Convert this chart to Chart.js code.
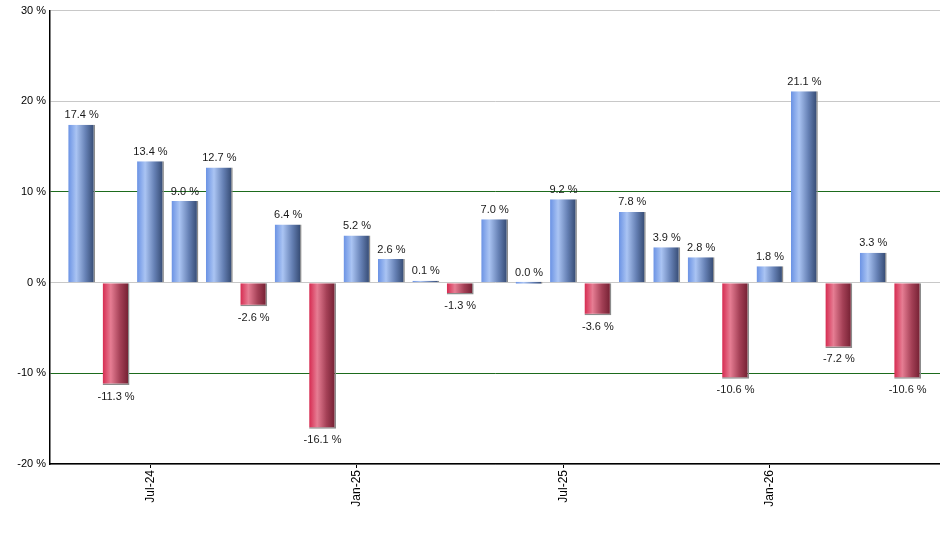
<!DOCTYPE html>
<html>
<head>
<meta charset="utf-8">
<script src="https://cdn.jsdelivr.net/npm/chart.js@4.4.1/dist/chart.umd.min.js"></script>
<style>
  html, body { margin: 0; padding: 0; background: #fff; }
  #wrap { width: 940px; height: 550px; position: relative; }
</style>
</head>
<body>
<div id="wrap"><canvas id="myChart"></canvas></div>
<script>
// monthly returns, May-24 .. May-26
const months = [
  'May-24', 'Jun-24', 'Jul-24', 'Aug-24', 'Sep-24', 'Oct-24', 'Nov-24', 'Dec-24',
  'Jan-25', 'Feb-25', 'Mar-25', 'Apr-25', 'May-25', 'Jun-25', 'Jul-25', 'Aug-25',
  'Sep-25', 'Oct-25', 'Nov-25', 'Dec-25', 'Jan-26', 'Feb-26', 'Mar-26', 'Apr-26', 'May-26'
]
const returns = [
  17.4, -11.3, 13.4, 9.0, 12.7, -2.6, 6.4, -16.1,
  5.2, 2.6, 0.1, -1.3, 7.0, 0.0, 9.2, -3.6,
  7.8, 3.9, 2.8, -10.6, 1.8, 21.1, -7.2, 3.3, -10.6
]
const tickMonths = ['Jul-24', 'Jan-25', 'Jul-25', 'Jan-26']
const yTicks = [-20, -10, 0, 10, 20, 30]

const BAR_PCT = 0.78
const FONT = "'Liberation Sans', Arial, sans-serif"

function barGradient(context) {
  const chart = context.chart
  const v = returns[context.dataIndex]
  if (!chart.chartArea || context.type !== 'data') return v >= 0 ? '#7f9fdc' : '#c8405c'
  const xs = chart.scales.x
  const cx = xs.getPixelForValue(context.dataIndex)
  const half = (xs.getPixelForValue(1) - xs.getPixelForValue(0)) * BAR_PCT / 2
  const g = chart.ctx.createLinearGradient(cx - half, 0, cx + half, 0)
  if (v >= 0) {
    g.addColorStop(0, '#6a92e4')
    g.addColorStop(0.3, '#aac4f3')
    g.addColorStop(0.65, '#6580b4')
    g.addColorStop(1, '#2f446b')
  } else {
    g.addColorStop(0, '#d62a50')
    g.addColorStop(0.3, '#e67d93')
    g.addColorStop(0.65, '#a44056')
    g.addColorStop(1, '#6e1c2e')
  }
  return g
}

// value labels above / below each bar
const valueLabels = {
  id: 'valueLabels',
  afterDatasetsDraw(chart) {
    const c = chart.ctx
    const meta = chart.getDatasetMeta(0)
    const zero = chart.scales.y.getPixelForValue(0)
    c.save()
    c.font = '11px ' + FONT
    c.fillStyle = '#1a1a1a'
    c.textAlign = 'center'
    meta.data.forEach((bar, i) => {
      const v = returns[i]
      const txt = v.toFixed(1) + ' %'
      if (v >= 0) {
        c.textBaseline = 'bottom'
        c.fillText(txt, bar.x, Math.min(bar.y, zero) - 4)
      } else {
        c.textBaseline = 'top'
        c.fillText(txt, bar.x, bar.y + 6)
      }
    })
    c.restore()
  }
}

const ctx = document.getElementById('myChart')
const myChart = new Chart(ctx, {
  type: 'bar',
  data: {
    datasets: [{
      data: returns.map((v, i) => ({ x: i, y: v })),
      backgroundColor: barGradient,
      borderColor: '#8c8c8c',
      borderWidth: c => returns[c.dataIndex] >= 0 ? { right: 1.5 } : { right: 1.5, bottom: 1.5 },
      borderSkipped: 'start',
      minBarLength: 2,
      barPercentage: BAR_PCT,
      categoryPercentage: 1
    }]
  },
  plugins: [valueLabels],
  options: {
    responsive: true,
    maintainAspectRatio: false,
    animation: false,
    layout: { padding: { top: 10, right: 0, left: 0, bottom: 0 } },
    plugins: {
      legend: { display: false },
      tooltip: { enabled: false }
    },
    scales: {
      x: {
        type: 'linear',
        offset: false,
        min: -0.92,
        max: 24.94,
        afterBuildTicks: s => { s.ticks = tickMonths.map(m => ({ value: months.indexOf(m) })) },
        afterFit: s => { s.height = 86 },
        ticks: {
          callback: v => months[v],
          autoSkip: false,
          minRotation: 90,
          maxRotation: 90,
          padding: 2,
          color: '#000',
          font: { family: FONT, size: 12 }
        },
        grid: { offset: false, drawOnChartArea: false, drawTicks: true, tickLength: 4, color: '#000' },
        border: { color: '#000', width: 1.5 }
      },
      y: {
        min: -20,
        max: 30,
        afterBuildTicks: s => { s.ticks = yTicks.map(v => ({ value: v })) },
        afterFit: s => { s.width = 50 },
        ticks: {
          callback: v => v + ' %',
          padding: 4,
          color: '#000',
          font: { family: FONT, size: 11 }
        },
        grid: {
          drawTicks: false,
          color: c => (c.tick && Math.abs(c.tick.value) === 10) ? '#1d6b1d' : '#c8c8c8',
          lineWidth: 1
        },
        border: { color: '#000', width: 1.5 }
      }
    }
  }
})
</script>
</body>
</html>
